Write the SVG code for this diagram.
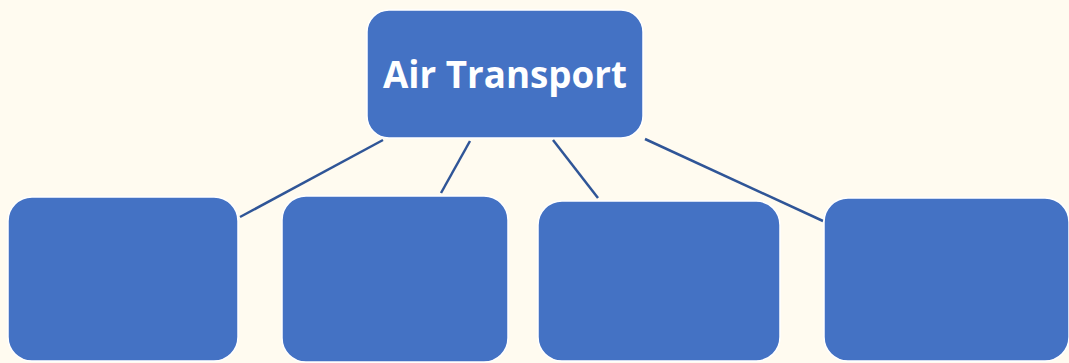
<svg xmlns="http://www.w3.org/2000/svg" width="1069" height="363" viewBox="0 0 1069 363">
<style>
.box{fill:#4472C4;stroke:#FFFFFF;stroke-width:1.5}
.conn{stroke:#2F5597;stroke-width:2.5;fill:none}
.title{font-family:"Open Sans","Liberation Sans",Arial,sans-serif;font-weight:bold;font-size:38px;fill:#FFFFFF}
</style>
<rect x="0" y="0" width="1069" height="363" fill="#FFFBF0"/>
<g id="connectors">
<line class="conn" x1="383" y1="140" x2="240" y2="217"/>
<line class="conn" x1="470" y1="141" x2="441" y2="193"/>
<line class="conn" x1="553" y1="140" x2="598" y2="198"/>
<line class="conn" x1="645" y1="139" x2="823" y2="221"/>
</g>
<g id="air-transport">
<rect class="box" x="367" y="10" width="276" height="128" rx="22"/>
<text class="title" x="505" y="88" text-anchor="middle" textLength="244" lengthAdjust="spacingAndGlyphs">Air Transport</text>
</g>
<g id="node1"><rect class="box" x="8" y="197" width="230" height="164" rx="24"/></g>
<g id="node2"><rect class="box" x="282" y="196" width="226" height="166" rx="24"/></g>
<g id="node3"><rect class="box" x="538" y="201" width="242" height="160" rx="24"/></g>
<g id="node4"><rect class="box" x="824" y="198" width="245" height="163" rx="24"/></g>
</svg>
